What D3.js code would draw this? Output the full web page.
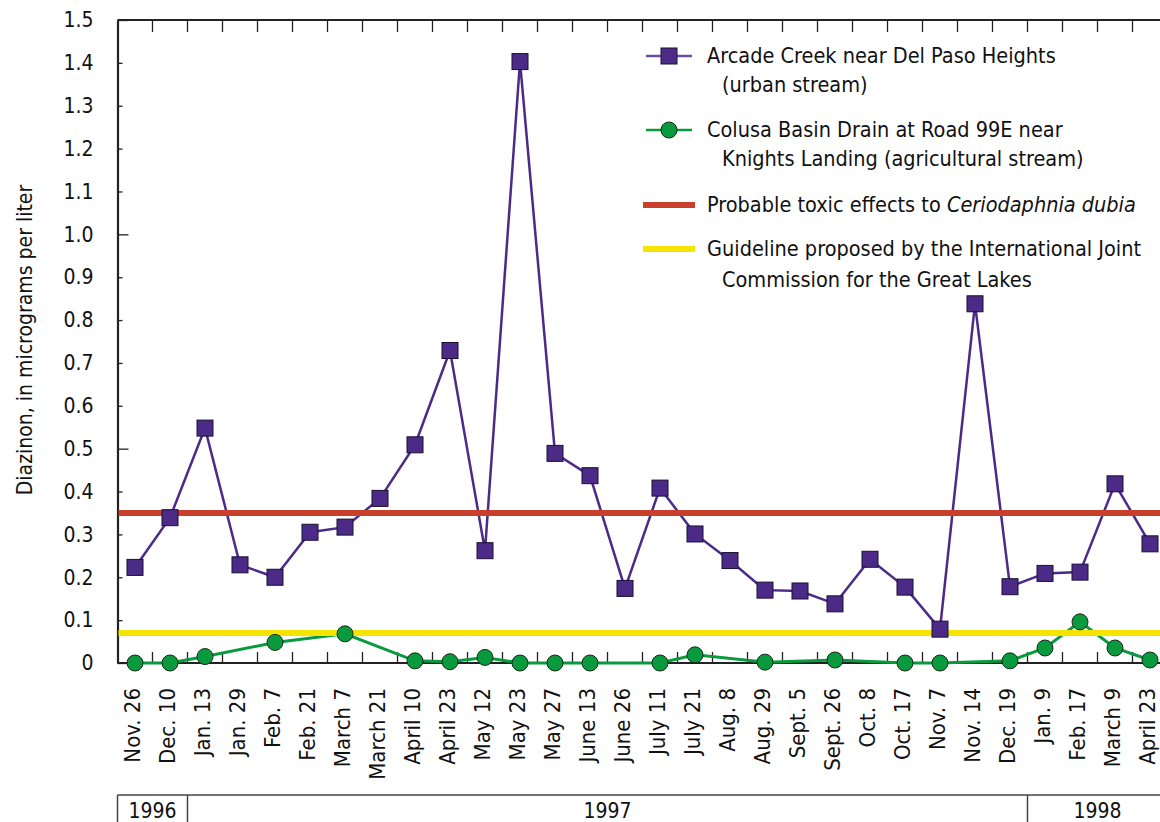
<!DOCTYPE html>
<html>
<head>
<meta charset="utf-8">
<style>
  body { margin: 0; background: #fff; }
  svg { display: block; font-family: "Liberation Sans Narrow", "DejaVu Sans Condensed", sans-serif; }
</style>
</head>
<body>
<svg width="1160" height="822"></svg>
<script src="https://cdn.jsdelivr.net/npm/d3@7"></script>
<script>
// sampling dates (Nov 1996 - April 1998)
var dates = ["Nov. 26","Dec. 10","Jan. 13","Jan. 29","Feb. 7","Feb. 21","March 7","March 21",
  "April 10","April 23","May 12","May 23","May 27","June 13","June 26","July 11","July 21",
  "Aug. 8","Aug. 29","Sept. 5","Sept. 26","Oct. 8","Oct. 17","Nov. 7","Nov. 14","Dec. 19",
  "Jan. 9","Feb. 17","March 9","April 23"];

// Arcade Creek near Del Paso Heights (urban)
var arcade = [0.223,0.339,0.548,0.229,0.20,0.305,0.317,0.384,0.509,0.729,0.262,1.403,0.489,
  0.437,0.174,0.408,0.301,0.239,0.170,0.168,0.138,0.242,0.177,0.079,0.838,0.178,0.209,0.212,
  0.418,0.278];

// Colusa Basin Drain at Road 99E (agricultural); null = not sampled
var colusa = [0,0,0.015,null,0.048,null,0.068,null,0.005,0.003,0.013,0,0,0,null,0,0.019,
  null,0.002,null,0.007,null,0,0,null,0.005,0.035,0.096,0.035,0.007];

var toxicLevel = 0.35;
var guidelineLevel = 0.07;

var yTicks = d3.range(0, 16).map(function(d){ return d/10; });
var years = [{label:"1996", from:0, to:2}, {label:"1997", from:2, to:26}, {label:"1998", from:26, to:30}];

var purple = "#4b2a88", green = "#0a9a3e", red = "#c8402c", yellow = "#f5e400";

var svg = d3.select("svg");
var plotLeft = 117.5, plotTop = 20, plotBottom = 663;

var x = d3.scaleBand().domain(d3.range(dates.length)).range([plotLeft, plotLeft + 35*dates.length]).paddingInner(0);
var y = d3.scaleLinear().domain([0, 1.5]).range([plotBottom, plotTop]);

// frame: top line and bottom axis line
svg.append("line").attr("x1", plotLeft).attr("x2", 1160).attr("y1", plotTop).attr("y2", plotTop)
  .attr("stroke", "#222").attr("stroke-width", 2);
svg.append("line").attr("x1", plotLeft).attr("x2", 1160).attr("y1", plotBottom).attr("y2", plotBottom)
  .attr("stroke", "#222").attr("stroke-width", 2);

// x ticks at category boundaries, top and bottom, pointing inward
var bounds = d3.range(1, dates.length);
svg.append("g").selectAll("line").data(bounds).join("line")
  .attr("x1", function(d){ return x(d); }).attr("x2", function(d){ return x(d); })
  .attr("y1", plotTop).attr("y2", plotTop + 12).attr("stroke", "#222").attr("stroke-width", 1.3);
svg.append("g").selectAll("line").data(bounds).join("line")
  .attr("x1", function(d){ return x(d); }).attr("x2", function(d){ return x(d); })
  .attr("y1", plotBottom).attr("y2", plotBottom - 11).attr("stroke", "#222").attr("stroke-width", 1.3);

// y axis
var yAxis = svg.append("g").attr("transform", "translate(" + plotLeft + ",0)")
  .call(d3.axisLeft(y).tickValues(yTicks).tickSize(0).tickPadding(24)
    .tickFormat(function(d){ return d === 0 ? "0" : d3.format(".1f")(d); }));
yAxis.select(".domain").attr("stroke", "#222").attr("stroke-width", 2.2);
yAxis.selectAll(".tick line")
  .attr("x2", function(d){ return (Math.round(d*10) % 5 === 0) ? 11 : 5; })
  .attr("stroke", "#222").attr("stroke-width", 1.3);
yAxis.selectAll(".tick text").attr("font-size", 21).attr("fill", "#111")
  .attr("font-family", "Liberation Sans Narrow, DejaVu Sans Condensed, sans-serif");

svg.append("text")
  .attr("transform", "translate(32,340) rotate(-90)")
  .attr("text-anchor", "middle").attr("font-size", 21).attr("fill", "#111")
  .text("Diazinon, in micrograms per liter");

// x tick labels (rotated)
svg.append("g").selectAll("text").data(dates).join("text")
  .attr("transform", function(d, i){ return "translate(" + (x(i) + x.bandwidth()/2 + 5) + ",688) rotate(-90)"; })
  .attr("text-anchor", "end").attr("font-size", 22).attr("fill", "#111")
  .text(function(d){ return d; });

// year boxes
var yb = svg.append("g");
yb.append("line").attr("x1", plotLeft).attr("x2", 1160).attr("y1", 795).attr("y2", 795)
  .attr("stroke", "#444").attr("stroke-width", 1.5);
yb.selectAll("line.v").data(years).join("line")
  .attr("x1", function(d){ return x(d.from); }).attr("x2", function(d){ return x(d.from); })
  .attr("y1", 795).attr("y2", 822).attr("stroke", "#444").attr("stroke-width", 1.5);
yb.selectAll("text").data(years).join("text")
  .attr("x", function(d){ return Math.min(x(d.from) + 35*(d.to - d.from)/2, 1113); })
  .attr("y", 818).attr("text-anchor", "middle").attr("font-size", 21).attr("fill", "#111")
  .text(function(d){ return d.label; });

// series lines
var cx = function(i){ return x(i) + x.bandwidth()/2; };
var arcadePts = arcade.map(function(v, i){ return {i:i, v:v}; });
var colusaPts = colusa.map(function(v, i){ return {i:i, v:v}; }).filter(function(d){ return d.v !== null; });
var line = d3.line().x(function(d){ return cx(d.i); }).y(function(d){ return y(d.v); });

svg.append("path").attr("d", line(colusaPts)).attr("fill", "none")
  .attr("stroke", green).attr("stroke-width", 3);
svg.append("path").attr("d", line(arcadePts)).attr("fill", "none")
  .attr("stroke", purple).attr("stroke-width", 2.5);

// reference lines
svg.append("line").attr("x1", plotLeft + 1).attr("x2", 1160)
  .attr("y1", y(guidelineLevel)).attr("y2", y(guidelineLevel))
  .attr("stroke", yellow).attr("stroke-width", 6);
svg.append("line").attr("x1", plotLeft + 1).attr("x2", 1160)
  .attr("y1", y(toxicLevel)).attr("y2", y(toxicLevel))
  .attr("stroke", red).attr("stroke-width", 6);

// markers
svg.append("g").selectAll("circle").data(colusaPts).join("circle")
  .attr("cx", function(d){ return cx(d.i); }).attr("cy", function(d){ return y(d.v); })
  .attr("r", 8).attr("fill", green).attr("stroke", "#1a2a1a").attr("stroke-width", 1);
svg.append("g").selectAll("rect").data(arcadePts).join("rect")
  .attr("x", function(d){ return cx(d.i) - 8; }).attr("y", function(d){ return y(d.v) - 8; })
  .attr("width", 16).attr("height", 16)
  .attr("fill", purple).attr("stroke", "#1a1030").attr("stroke-width", 1);

// legend
var lg = svg.append("g").attr("font-size", 21.5).attr("fill", "#111");
lg.append("line").attr("x1", 646).attr("x2", 692).attr("y1", 56).attr("y2", 56)
  .attr("stroke", "#6a4fa6").attr("stroke-width", 2.5);
lg.append("rect").attr("x", 661).attr("y", 48).attr("width", 16).attr("height", 16)
  .attr("fill", purple).attr("stroke", "#1a1030");
lg.append("text").attr("x", 707).attr("y", 63).text("Arcade Creek near Del Paso Heights");
lg.append("text").attr("x", 722).attr("y", 92).text("(urban stream)");

lg.append("line").attr("x1", 646).attr("x2", 692).attr("y1", 130).attr("y2", 130)
  .attr("stroke", green).attr("stroke-width", 2.5);
lg.append("circle").attr("cx", 669).attr("cy", 130).attr("r", 8)
  .attr("fill", green).attr("stroke", "#1a2a1a");
lg.append("text").attr("x", 707).attr("y", 137).text("Colusa Basin Drain at Road 99E near");
lg.append("text").attr("x", 722).attr("y", 166).text("Knights Landing (agricultural stream)");

lg.append("line").attr("x1", 643).attr("x2", 695).attr("y1", 205).attr("y2", 205)
  .attr("stroke", red).attr("stroke-width", 6);
var t3 = lg.append("text").attr("x", 707).attr("y", 212);
t3.append("tspan").text("Probable toxic effects to ");
t3.append("tspan").attr("font-style", "italic").text("Ceriodaphnia dubia");

lg.append("line").attr("x1", 643).attr("x2", 695).attr("y1", 249).attr("y2", 249)
  .attr("stroke", yellow).attr("stroke-width", 6);
lg.append("text").attr("x", 707).attr("y", 256).text("Guideline proposed by the International Joint");
lg.append("text").attr("x", 722).attr("y", 287).text("Commission for the Great Lakes");
</script>
</body>
</html>
